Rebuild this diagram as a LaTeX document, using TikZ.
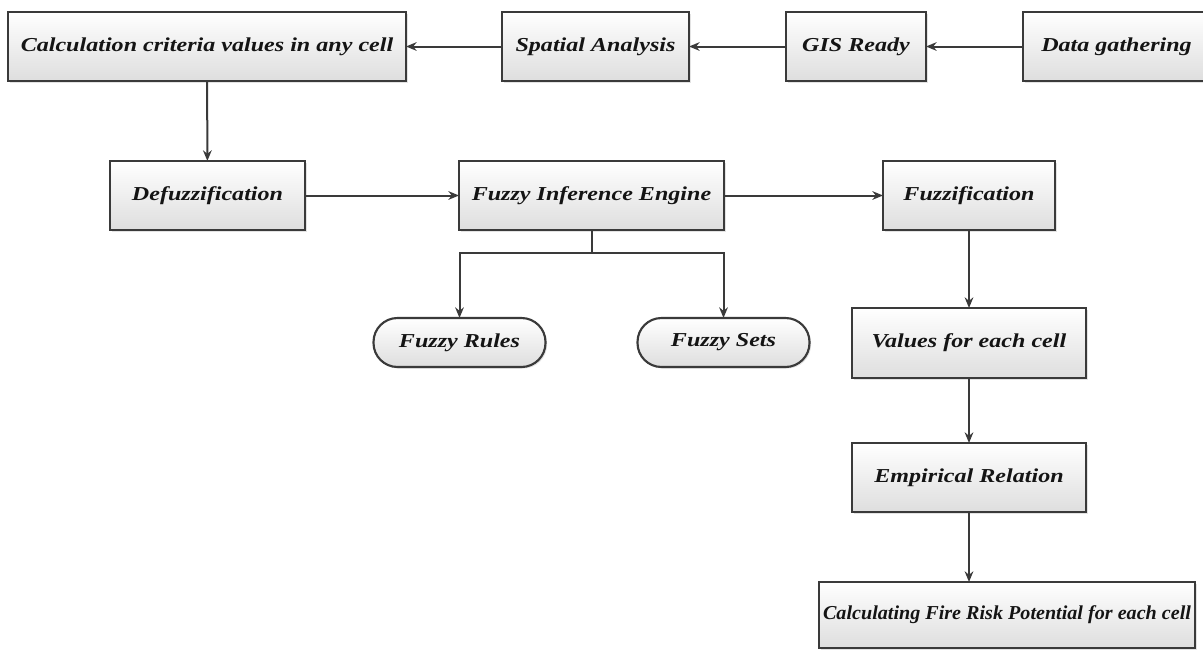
\documentclass[tikz,border=0pt]{standalone}
\usepackage{fontspec}
\setmainfont{Liberation Serif}[FakeStretch=1.22]
\newfontfamily\narrowserif{Liberation Serif}[FakeStretch=1.02]
\usetikzlibrary{arrows.meta,shadows}
\definecolor{edge}{HTML}{3A3A3A}
\definecolor{ink}{HTML}{141414}
\begin{document}
\begin{tikzpicture}[x=0.75pt,y=-0.75pt,
  procbox/.style={draw=edge, line width=1.6pt, inner sep=0pt, outer sep=0pt,
    top color=white, bottom color=black!13, text=ink,
    font=\fontsize{14.8}{17}\selectfont\bfseries\itshape,
    drop shadow={opacity=0.22, shadow xshift=1.2pt, shadow yshift=-1.2pt}},
  termbox/.style={procbox, rounded corners=18pt},
  narrowtext/.style={font=\narrowserif\fontsize{14.8}{17}\selectfont\bfseries\itshape},
  flow/.style={draw=edge, line width=1.5pt, -{Stealth[length=8pt,width=6.5pt]}},
  link/.style={draw=edge, line width=1.5pt}
]
\useasboundingbox (0,0) rectangle (1203,650);
\clip (0,0) rectangle (1203,650);
% top row
\node[procbox, minimum width=398*0.75pt, minimum height=69*0.75pt] (calc) at (207,46.5) {Calculation criteria values in any cell};
\node[procbox, minimum width=187*0.75pt, minimum height=69*0.75pt] (spatial) at (595.5,46.5) {Spatial Analysis};
\node[procbox, minimum width=140*0.75pt, minimum height=69*0.75pt] (gis) at (856,46.5) {GIS Ready};
\node[procbox, minimum width=187*0.75pt, minimum height=69*0.75pt] (data) at (1116.5,46.5) {Data gathering};
% second row
\node[procbox, minimum width=195*0.75pt, minimum height=69*0.75pt] (defuzz) at (207.5,195.5) {Defuzzification};
\node[procbox, minimum width=265*0.75pt, minimum height=69*0.75pt] (fie) at (591.5,195.5) {Fuzzy Inference Engine};
\node[procbox, minimum width=172*0.75pt, minimum height=69*0.75pt] (fuzz) at (969,195.5) {Fuzzification};
% knowledge base
\node[termbox, minimum width=172*0.75pt, minimum height=49*0.75pt] (rules) at (459.5,342.5) {Fuzzy Rules};
\node[termbox, minimum width=172*0.75pt, minimum height=49*0.75pt] (sets) at (723.5,342.5) {Fuzzy Sets};
% right column
\node[procbox, minimum width=234*0.75pt, minimum height=70*0.75pt] (values) at (969,343) {Values for each cell};
\node[procbox, minimum width=234*0.75pt, minimum height=69*0.75pt] (empir) at (969,477.5) {Empirical Relation};
\node[procbox, narrowtext, minimum width=376*0.75pt, minimum height=66*0.75pt] (fire) at (1007,615) {Calculating Fire Risk Potential for each cell};
% connectors
\draw[flow] (data) -- (gis);
\draw[flow] (gis) -- (spatial);
\draw[flow] (spatial) -- (calc);
\draw[flow] (calc) -- (defuzz);
\draw[flow] (defuzz) -- (fie);
\draw[flow] (fie) -- (fuzz);
\coordinate (split) at (591.5,253);
\draw[link] (fie.south) -- (split);
\draw[flow] (split) -| (rules.north);
\draw[flow] (split) -| (sets.north);
\draw[flow] (fuzz) -- (values);
\draw[flow] (values) -- (empir);
\draw[flow] (empir.south) -- (empir.south |- fire.north);
\end{tikzpicture}
\end{document}
